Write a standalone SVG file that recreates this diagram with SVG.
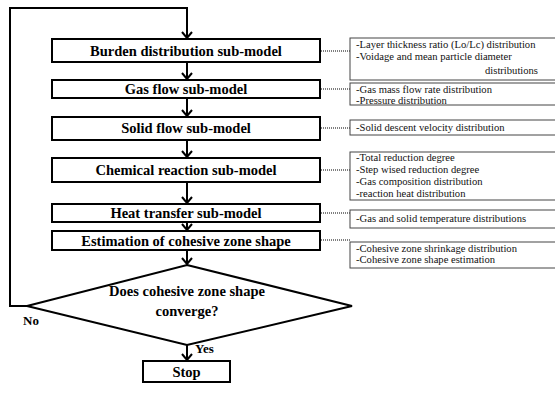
<svg xmlns="http://www.w3.org/2000/svg" width="555" height="410" viewBox="0 0 555 410">
  <style>
    .box { fill: #fff; stroke: #000; stroke-width: 2; }
    .info { fill: #fff; stroke: #444; stroke-width: 1; }
    .title { font-family: "Liberation Serif", "Times New Roman", serif; font-weight: bold; font-size: 14.5px; text-anchor: middle; fill: #000; }
    .label { font-family: "Liberation Serif", "Times New Roman", serif; font-weight: bold; font-size: 13px; fill: #000; }
    .note { font-family: "Liberation Serif", "Times New Roman", serif; font-size: 10.6px; fill: #111; }
    .flow { fill: none; stroke: #000; stroke-width: 2; }
    .dot { fill: none; stroke: #000; stroke-width: 1.2; stroke-dasharray: 1 1; }
  </style>
  <defs>
    <marker id="arrow" viewBox="-1 -6 8 12" refX="6" refY="0" markerWidth="8" markerHeight="12" markerUnits="userSpaceOnUse" orient="auto">
      <path d="M0,-5 L6,0 L0,5" fill="none" stroke="#000" stroke-width="2"/>
    </marker>
  </defs>

  <!-- connectors -->
  <g id="connectors">
    <polyline class="flow" points="27,306 10,306 10,8 187,8 187,38" marker-end="url(#arrow)"/>
    <line class="flow" x1="187" y1="62" x2="187" y2="79" marker-end="url(#arrow)"/>
    <line class="flow" x1="187" y1="98" x2="187" y2="116" marker-end="url(#arrow)"/>
    <line class="flow" x1="187" y1="140" x2="187" y2="157" marker-end="url(#arrow)"/>
    <line class="flow" x1="187" y1="182" x2="187" y2="203" marker-end="url(#arrow)"/>
    <line class="flow" x1="187" y1="222" x2="187" y2="230" marker-end="url(#arrow)"/>
    <line class="flow" x1="187" y1="250" x2="187" y2="264" marker-end="url(#arrow)"/>
    <line class="flow" x1="187" y1="345" x2="187" y2="360" marker-end="url(#arrow)"/>
    <line class="dot" x1="321" y1="51" x2="350" y2="51"/>
    <line class="dot" x1="321" y1="89" x2="350" y2="89"/>
    <line class="dot" x1="321" y1="128" x2="350" y2="128"/>
    <line class="dot" x1="321" y1="170" x2="350" y2="170"/>
    <line class="dot" x1="321" y1="213" x2="350" y2="213"/>
    <line class="dot" x1="321" y1="240" x2="350" y2="240"/>
    <text class="label" x="23" y="325">No</text>
    <text class="label" x="195" y="353">Yes</text>
  </g>

  <!-- sub-model nodes -->
  <g id="burden">
    <rect class="box" x="52" y="39" width="268" height="23"/>
    <text class="title" x="186" y="56">Burden distribution sub-model</text>
  </g>
  <g id="gasflow">
    <rect class="box" x="52" y="80" width="268" height="18"/>
    <text class="title" x="186" y="94">Gas flow sub-model</text>
  </g>
  <g id="solidflow">
    <rect class="box" x="52" y="117" width="268" height="23"/>
    <text class="title" x="186" y="133">Solid flow sub-model</text>
  </g>
  <g id="chemical">
    <rect class="box" x="52" y="158" width="268" height="24"/>
    <text class="title" x="186" y="175">Chemical reaction sub-model</text>
  </g>
  <g id="heat">
    <rect class="box" x="52" y="204" width="268" height="18"/>
    <text class="title" x="186" y="218">Heat transfer sub-model</text>
  </g>
  <g id="cohesive">
    <rect class="box" x="52" y="231" width="268" height="19"/>
    <text class="title" x="186" y="245.5">Estimation of cohesive zone shape</text>
  </g>
  <g id="decision">
    <polygon class="box" points="187,265 352,306 187,345 27,306"/>
    <text class="title" x="187" y="296">Does cohesive zone shape</text>
    <text class="title" x="187" y="316">converge?</text>
  </g>
  <g id="stop">
    <rect class="box" x="143" y="361" width="87" height="21"/>
    <text class="title" x="186.5" y="376.5">Stop</text>
  </g>

  <!-- output notes -->
  <g id="note-burden">
    <rect class="info" x="350" y="38" width="210" height="42"/>
    <text class="note" x="356" y="48">-Layer thickness ratio (Lo/Lc) distribution</text>
    <text class="note" x="356" y="60">-Voidage and mean particle diameter</text>
    <text class="note" x="538" y="74" text-anchor="end">distributions</text>
  </g>
  <g id="note-gas">
    <rect class="info" x="350" y="83" width="210" height="22"/>
    <text class="note" x="356" y="93">-Gas mass flow rate distribution</text>
    <text class="note" x="356" y="104">-Pressure distribution</text>
  </g>
  <g id="note-solid">
    <rect class="info" x="350" y="120" width="210" height="15"/>
    <text class="note" x="356" y="131">-Solid descent velocity distribution</text>
  </g>
  <g id="note-chemical">
    <rect class="info" x="350" y="152" width="210" height="48"/>
    <text class="note" x="356" y="161">-Total reduction degree</text>
    <text class="note" x="356" y="173">-Step wised reduction degree</text>
    <text class="note" x="356" y="185">-Gas composition distribution</text>
    <text class="note" x="356" y="197">-reaction heat distribution</text>
  </g>
  <g id="note-heat">
    <rect class="info" x="350" y="210" width="210" height="18"/>
    <text class="note" x="356" y="222">-Gas and solid temperature distributions</text>
  </g>
  <g id="note-cohesive">
    <rect class="info" x="350" y="242" width="210" height="26"/>
    <text class="note" x="356" y="252">-Cohesive zone shrinkage distribution</text>
    <text class="note" x="356" y="263">-Cohesive zone shape estimation</text>
  </g>
</svg>
